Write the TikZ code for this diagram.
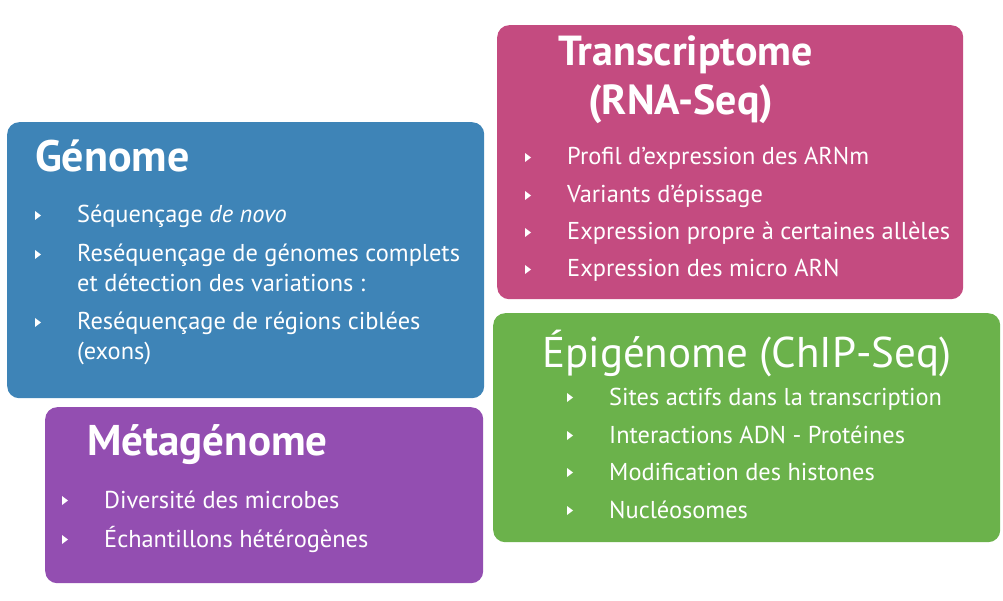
\documentclass[tikz,border=0pt]{standalone}
\usepackage{fontspec}
\setmainfont{PT Sans}
\usepackage{tikz}

\definecolor{genblue}{HTML}{3E84B7}
\definecolor{trapink}{HTML}{C44B80}
\definecolor{epigreen}{HTML}{6BB24B}
\definecolor{metpurple}{HTML}{934EB1}

% petit triangle devant chaque ligne (#1 = lignes en plus au-dessus de la base)
\newcommand{\puce}[2][0]{\fill[white] ([xshift=-42pt,yshift={12pt+#1*30pt}]#2.base west)
	-- ++(6,-4.5) -- ++(-6,-4.5) -- cycle;}

\begin{document}
\begin{tikzpicture}[x=1pt, y=1pt]
	\tikzstyle{bloc} = [rectangle, rounded corners=12pt, inner sep=0pt,
	anchor=north west]
	\tikzstyle{titre} = [text=white, anchor=base west, inner sep=0pt,
	font=\fontsize{44}{48}\selectfont\bfseries]
	\tikzstyle{item} = [text=white, anchor=base west, inner sep=0pt,
	align=left, font=\fontsize{24.4}{30}\selectfont]
	\useasboundingbox (0,0) rectangle (1003,600);
	% les quatre cadres
	\node[bloc, fill=genblue, minimum width=477, minimum height=276] (gen) at (7,478) {};
	\node[bloc, fill=trapink, minimum width=466, minimum height=274] (tra) at (497,575) {};
	\node[bloc, fill=epigreen, minimum width=507, minimum height=229] (epi) at (493,287) {};
	\node[bloc, fill=metpurple, minimum width=438, minimum height=176] (met) at (45,193) {};
	% Genome
	\node[titre] (gent) at (35,428) {Génome};
	\node[item] (gen1) at (77,377) {Séquençage \emph{de novo}};
	\node[item] (gen2) at (77,308) {Reséquençage de génomes complets\\et détection des variations :};
	\node[item] (gen3) at (77,240) {Reséquençage de régions ciblées\\(exons)};
	% Transcriptome
	\node[titre, font=\fontsize{42}{48}\selectfont\bfseries] (trat1) at (558,534) {Transcriptome};
	\node[titre, font=\fontsize{42}{48}\selectfont\bfseries] (trat2) at (588,485) {(RNA-Seq)};
	\node[item] (tra1) at (567,435) {Profil d’expression des ARNm};
	\node[item] (tra2) at (567,397) {Variants d’épissage};
	\node[item] (tra3) at (567,360) {Expression propre à certaines allèles};
	\node[item] (tra4) at (567,323) {Expression des micro ARN};
	% Epigenome
	\node[titre, font=\fontsize{43}{48}\selectfont] (epit) at (542,232) {Épigénome (ChIP-Seq)};
	\node[item] (epi1) at (609,195) {Sites actifs dans la transcription};
	\node[item] (epi2) at (609,157) {Interactions ADN - Protéines};
	\node[item] (epi3) at (609,120) {Modification des histones};
	\node[item] (epi4) at (609,82) {Nucléosomes};
	% Metagenome
	\node[titre, font=\fontsize{43}{48}\selectfont\bfseries] (mett) at (87,145) {Métagénome};
	\node[item] (met1) at (104,92) {Diversité des microbes};
	\node[item] (met2) at (104,53) {Échantillons hétérogènes};
	% puces
	\puce{gen1} \puce[1]{gen2} \puce[1]{gen3}
	\puce{tra1} \puce{tra2} \puce{tra3} \puce{tra4}
	\puce{epi1} \puce{epi2} \puce{epi3} \puce{epi4}
	\puce{met1} \puce{met2}
\end{tikzpicture}
\end{document}
